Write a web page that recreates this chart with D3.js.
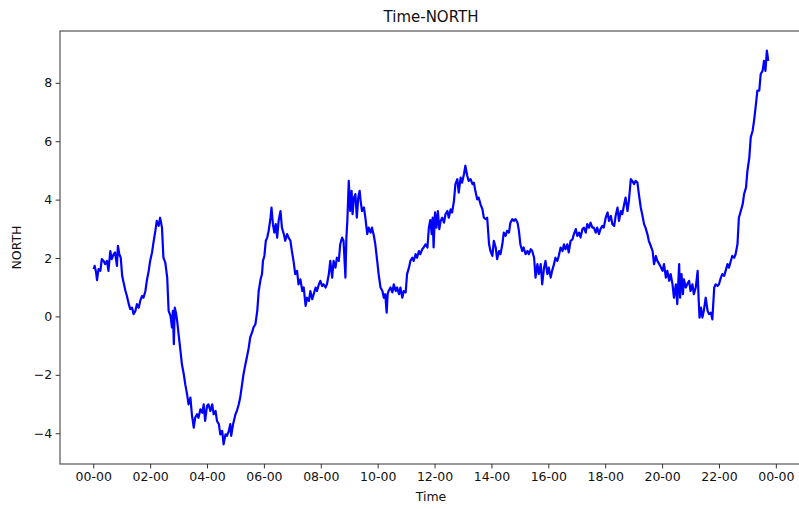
<!DOCTYPE html>
<html>
<head>
<meta charset="utf-8">
<script src="https://cdn.jsdelivr.net/npm/d3@7"></script>
<style>
  html, body { margin: 0; padding: 0; background: #fff; }
  svg { display: block; font-family: "DejaVu Sans", sans-serif; }
</style>
</head>
<body>
<svg id="chart" width="799" height="509"></svg>
<script>
// Minutes after midnight for each sample
const minutes = [
  1,3,6,8,11,15,18,22,25,29,32,36,39,43,46,50,52,55,58,61,64,68,71,75,78,82,85,89,92,96,99,103,106,110,113,117,120,124,127,131,134,138,141,145,148,152,156,159,163,166,168,170,172,175,177,180,184,187,191,194,198,201,205,208,212,215,219,222,226,
  230,233,236,240,243,247,251,254,258,261,265,268,272,275,279,282,286,289,291,295,300,303,307,310,314,317,321,324,328,331,335,338,342,346,349,353,356,358,361,364,367,370,374,376,379,382,385,388,391,395,398,402,405,409,412,416,419,423,426,430,433,437,441,444,448,451,455,458,462,465,469,472,476,
  479,483,486,490,493,497,500,504,507,511,514,518,521,525,528,532,534,536,539,542,545,547,550,553,556,559,562,564,567,571,574,578,581,585,588,592,595,599,602,606,610,613,616,619,621,623,627,631,634,638,641,645,648,652,655,659,662,666,669,673,676,680,683,687,690,694,697,701,705,708,
  711,714,716,718,721,724,727,730,733,736,740,743,747,750,754,757,761,764,768,771,775,778,782,785,789,792,796,800,803,806,810,813,817,821,824,828,831,835,838,842,845,849,852,856,859,863,866,870,873,877,880,884,887,891,895,898,901,905,908,912,916,919,923,926,930,933,937,940,944,947,951,954,
  958,961,965,968,972,975,979,982,986,990,993,996,1000,1003,1007,1011,1014,1018,1021,1025,1028,1032,1035,1039,1042,1046,1049,1053,1056,1060,1063,1067,1070,1074,1077,1081,1085,1088,1092,1095,1099,1102,1106,1109,1113,1116,1120,1123,1127,1130,1134,1137,1141,1144,1148,1151,1155,1158,1162,1165,1169,1172,1176,1180,1183,1187,1190,1194,1197,
  1201,1204,1208,1211,1215,1218,1222,1225,1229,1232,1236,1238,1241,1244,1246,1250,1253,1257,1260,1264,1267,1271,1275,1277,1279,1282,1285,1288,1292,1296,1299,1303,1306,1310,1313,1317,1320,1324,1327,1331,1334,1338,1341,1345,1348,1352,1355,1359,1362,1366,1370,1373,1377,1380,1384,1387,1391,1394,1398,1401,1405,1408,1412,1415,1418,1421,1424
];

// NORTH reading at each sample
const north = [
  1.62,1.73,1.50,1.24,1.62,1.56,1.96,1.90,1.79,1.90,1.56,2.24,1.96,2.13,2.19,1.73,2.42,2.13,2.01,1.39,1.16,0.87,0.70,0.42,0.25,0.30,0.08,0.19,0.42,0.30,0.53,0.70,0.64,0.87,1.22,1.56,1.90,2.19,2.53,2.93,3.27,3.10,3.38,3.04,2.01,1.84,1.33,0.19,0.02,-0.38,0.19,-0.95,0.30,0.08,-0.15,-0.61,-1.18,-1.64,-1.98,-2.32,-2.67,-3.01,-2.78,-3.35,-3.81,-3.47,-3.35,-3.47,-3.18,
  -3.30,-3.01,-3.58,-3.07,-3.01,-3.24,-3.01,-3.35,-3.24,-3.58,-3.69,-4.04,-3.92,-4.38,-4.04,-4.09,-3.92,-3.69,-4.09,-3.69,-3.35,-3.24,-3.01,-2.78,-2.32,-1.98,-1.64,-1.41,-1.07,-0.73,-0.55,-0.38,-0.27,0.19,0.87,1.27,1.45,1.90,2.07,2.59,2.70,2.93,3.38,3.73,3.16,2.87,3.16,2.70,3.27,3.61,3.04,2.82,2.59,2.82,2.70,2.59,2.24,1.84,1.45,1.56,1.10,1.27,0.87,0.99,0.36,0.64,0.53,0.87,0.59,0.76,0.99,0.87,1.10,
  1.22,1.04,1.10,0.99,1.10,1.45,1.90,1.33,1.90,1.67,2.01,1.90,2.47,2.70,2.59,1.33,2.70,3.27,4.64,3.61,4.30,3.50,4.07,4.19,3.38,4.07,4.30,3.96,3.61,3.73,3.38,2.82,3.04,2.87,3.04,2.76,2.47,1.90,1.45,0.99,0.87,0.64,0.76,0.13,0.76,0.87,0.99,0.82,1.10,0.87,0.99,0.76,0.99,0.64,0.87,0.82,1.45,1.67,1.90,2.01,1.90,2.13,2.01,2.24,2.13,2.30,2.36,2.47,2.36,3.04,
  3.30,2.82,3.38,2.36,3.56,3.04,3.61,2.99,3.27,3.38,3.21,3.50,3.61,3.38,3.67,3.56,3.96,4.53,4.70,4.24,4.75,4.58,4.87,5.16,4.81,4.64,4.70,4.53,4.58,4.30,4.01,4.07,3.84,3.67,3.38,3.33,3.38,2.47,2.24,2.07,2.59,2.36,1.96,2.24,2.13,2.47,2.87,2.76,2.93,2.87,3.21,3.33,3.27,3.33,3.21,2.93,2.47,2.24,2.36,2.13,2.24,2.13,2.30,2.24,2.01,1.33,1.79,1.45,1.79,1.10,1.67,1.90,
  1.45,1.67,1.33,1.56,1.79,2.01,1.90,2.07,2.36,2.24,2.47,2.30,2.47,2.19,2.59,2.64,2.82,2.99,2.76,2.87,2.70,2.99,3.04,2.87,3.16,3.04,3.21,3.04,3.04,2.87,3.04,2.82,2.99,3.10,3.04,3.38,3.56,3.27,3.44,3.16,3.10,3.44,3.73,3.27,3.61,3.50,3.84,4.07,3.61,3.96,4.70,4.64,4.53,4.64,4.58,4.19,3.73,3.50,3.16,3.04,2.82,2.59,2.42,2.24,1.79,2.07,1.90,1.79,1.70,
  1.56,1.79,1.33,1.56,1.22,1.45,1.10,0.64,1.10,0.42,1.79,0.64,1.45,0.76,1.27,0.99,1.10,1.22,0.87,1.10,0.76,0.99,1.56,0.64,-0.04,0.30,-0.04,0.19,0.64,0.19,0.08,0.13,-0.10,0.99,1.10,1.04,1.10,1.33,1.45,1.39,1.56,1.79,1.67,1.90,2.07,2.01,2.13,2.47,3.38,3.61,3.84,4.19,4.41,4.98,5.44,6.13,6.36,6.70,7.27,7.73,7.73,8.30,8.41,8.75,8.41,9.10,8.75
];

const yTicks = [-4, -2, 0, 2, 4, 6, 8];
const titleText = "Time-NORTH";
const xLabel = "Time";
const yLabel = "NORTH";

const svg = d3.select("#chart");
const plotLeft = 60, plotRight = 802, plotTop = 31, plotBottom = 464;
const frameColor = "#333";

const base = new Date(2021, 0, 1, 0, 0, 0);
const points = minutes.map((m, i) => ({ t: new Date(base.getTime() + m * 60000), v: north[i] }));

// 5% padding around the data extent on both axes
const tExt = d3.extent(points, d => d.t.getTime());
const tPad = (tExt[1] - tExt[0]) * 0.05;
const vExt = d3.extent(points, d => d.v);
const vPad = (vExt[1] - vExt[0]) * 0.05;

const x = d3.scaleTime()
  .domain([new Date(tExt[0] - tPad), new Date(tExt[1] + tPad)])
  .range([plotLeft, plotRight]);
const y = d3.scaleLinear()
  .domain([vExt[0] - vPad, vExt[1] + vPad])
  .range([plotBottom, plotTop]);

// Series line
svg.append("path")
  .datum(points)
  .attr("fill", "none")
  .attr("stroke", "#0000ff")
  .attr("stroke-width", 2.2)
  .attr("stroke-linejoin", "round")
  .attr("d", d3.line().x(d => x(d.t)).y(d => y(d.v)));

// Axes
const xAxis = d3.axisBottom(x)
  .ticks(d3.timeHour.every(2))
  .tickFormat(d3.timeFormat("%H-%M"))
  .tickSizeInner(4.4).tickSizeOuter(0).tickPadding(3.5);
const yAxis = d3.axisLeft(y)
  .tickValues(yTicks)
  .tickFormat(d => d < 0 ? "\u2212" + Math.abs(d) : String(d))
  .tickSizeInner(4.4).tickSizeOuter(0).tickPadding(3.5);

const gx = svg.append("g").attr("transform", `translate(0,${plotBottom})`).call(xAxis);
const gy = svg.append("g").attr("transform", `translate(${plotLeft},0)`).call(yAxis);
[gx, gy].forEach(g => {
  g.select(".domain").remove();
  g.selectAll("text").attr("font-family", "DejaVu Sans, sans-serif").attr("font-size", 12.5).attr("fill", "#111");
  g.selectAll("line").attr("stroke", frameColor).attr("stroke-width", 1);
});

// Frame
svg.append("rect")
  .attr("x", plotLeft).attr("y", plotTop)
  .attr("width", plotRight - plotLeft).attr("height", plotBottom - plotTop)
  .attr("fill", "none").attr("stroke", frameColor).attr("stroke-width", 1);

// Title and axis labels
svg.append("text")
  .attr("x", (plotLeft + plotRight) / 2).attr("y", 22)
  .attr("text-anchor", "middle").attr("font-size", 15).attr("fill", "#111")
  .text(titleText);
svg.append("text")
  .attr("x", (plotLeft + plotRight) / 2).attr("y", 501)
  .attr("text-anchor", "middle").attr("font-size", 12.5).attr("fill", "#111")
  .text(xLabel);
svg.append("text")
  .attr("transform", `translate(21,${(plotTop + plotBottom) / 2}) rotate(-90)`)
  .attr("text-anchor", "middle").attr("font-size", 12.5).attr("fill", "#111")
  .text(yLabel);
</script>
</body>
</html>
